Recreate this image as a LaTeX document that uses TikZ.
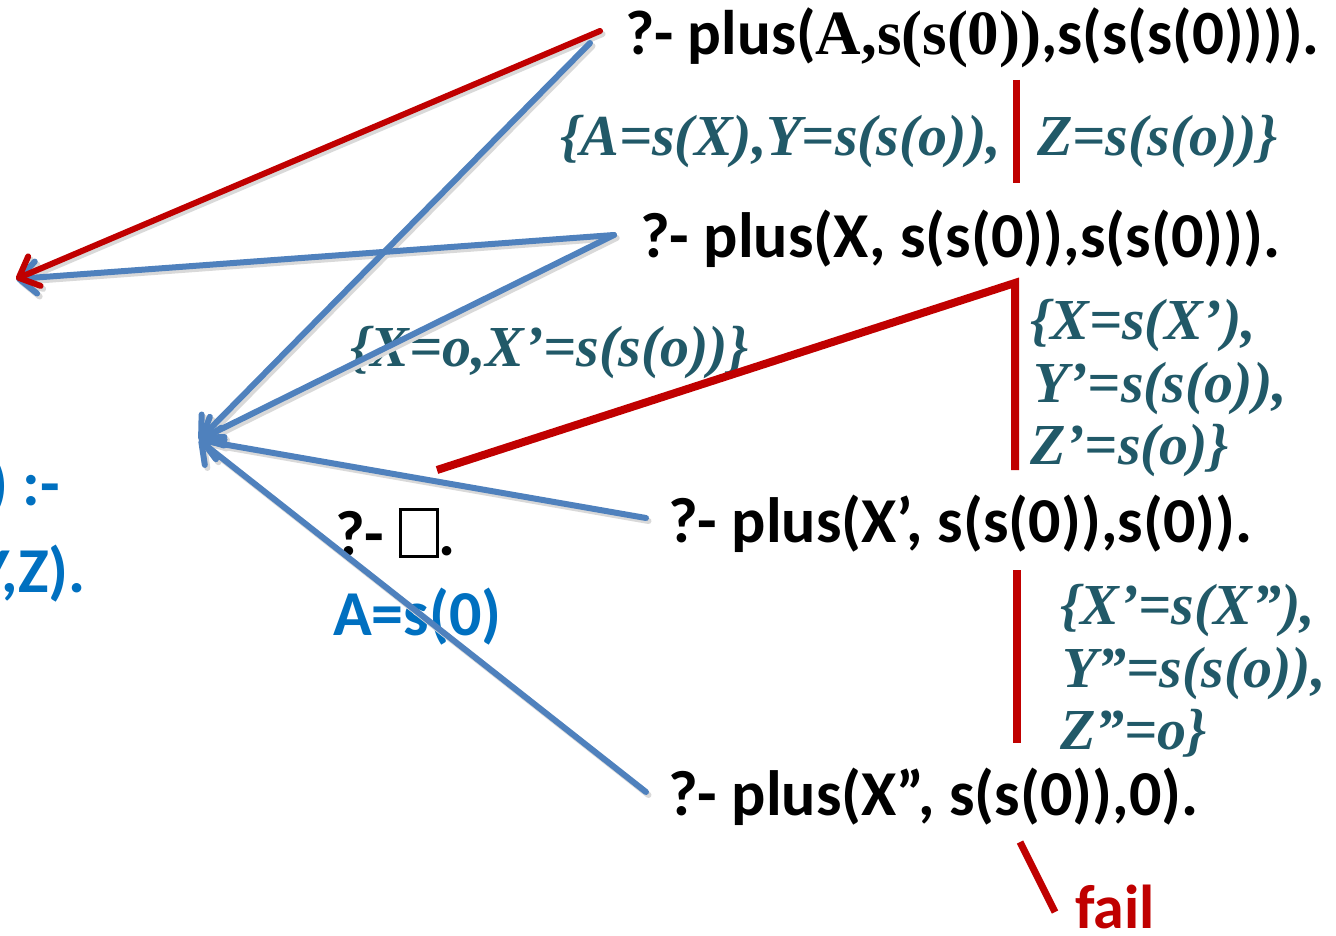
\documentclass[tikz,border=0pt]{standalone}
\usepackage{fontspec}
\setmainfont{Carlito}
\newfontfamily\lserif{Liberation Serif}
\usetikzlibrary{arrows.meta}
\definecolor{myred}{RGB}{192,0,0}
\definecolor{myblue}{RGB}{79,129,189}
\definecolor{txtblue}{RGB}{0,112,192}
\definecolor{tealtxt}{RGB}{33,89,104}
\tikzset{
  goal/.style={anchor=base west, inner sep=0pt, font=\fontsize{64}{70}\selectfont\bfseries, text=black},
  subst/.style={anchor=base west, inner sep=0pt, font=\lserif\fontsize{58}{62}\selectfont\bfseries\itshape, text=tealtxt},
  clause/.style={anchor=base east, inner sep=0pt, font=\fontsize{64}{70}\selectfont\bfseries, text=txtblue},
  failtxt/.style={anchor=base west, inner sep=0pt, font=\fontsize{62}{70}\selectfont\bfseries, text=myred},
  bluearrow/.style={draw=myblue, line width=6pt, line cap=round, -{Straight Barb[length=17pt,width=32pt,round]}},
  redarrow/.style={draw=myred, line width=6pt, line cap=round, -{Straight Barb[length=17pt,width=32pt,round]}},
  shadowarrow/.style={draw=black!15, line width=6pt, line cap=round, -{Straight Barb[length=17pt,width=32pt,round]}, transform canvas={shift={(2.5pt,-3pt)}}},
  redline/.style={draw=myred, line width=8pt},
}
\begin{document}
\begin{tikzpicture}[x=1pt,y=-1pt]
\useasboundingbox (0,0) rectangle (1336,936);
\clip (0,0) rectangle (1336,936);
\fill[white] (0,0) rectangle (1336,936);

% goals
\node[goal, font=\fontsize{63}{70}\selectfont\bfseries] (q1) at (625,55) {?- plus({\lserif A,s(s(0))},s(s(s(0)))).};
\node[goal] (q2) at (640,258) {?- plus(X, s(s(0)),s(s(0))).};
\node[goal] (q3) at (668,542) {?- plus(X’, s(s(0)),s(0)).};
\node[goal] (q4) at (668,815) {?- plus(X”, s(s(0)),0).};
\node[goal] (qe) at (335,555) {?- {\setlength\fboxrule{2.8pt}\setlength\fboxsep{0pt}\fbox{\rule{0pt}{44pt}\hspace{34pt}}}.};
\node[clause, anchor=base west] (ans) at (333,635) {A=s(0)};
\node[failtxt] (fail) at (1075,928) {fail};

% clause cut at the left edge
\node[clause] (c1) at (60,505) {plus(s(X),Y,s(Z)) :-};
\node[clause] (c2) at (86,592) {plus(X,Y,Z).};

% substitutions
\node[subst] (s1a) at (560,156) {\{A=s(X),Y=s(s(o)),};
\node[subst] (s1b) at (1037,156) {Z=s(s(o))\}};
\node[subst] (s2) at (350,366) {\{X=o,X’=s(s(o))\}};
\node[subst] (s3a) at (1030,339) {\{X=s(X’),};
\node[subst] (s3b) at (1033,402) {Y’=s(s(o)),};
\node[subst] (s3c) at (1030,464) {Z’=s(o)\}};
\node[subst] (s4a) at (1060,624) {\{X’=s(X”),};
\node[subst] (s4b) at (1062,687) {Y”=s(s(o)),};
\node[subst] (s4c) at (1060,749) {Z”=o\}};

% connector end points
\coordinate (t1) at (16,279);
\coordinate (t2) at (199,440);
\coordinate (a1r) at (600,31);
\coordinate (a1b) at (590,43);
\coordinate (a2) at (614,235);
\coordinate (a3) at (646,518);
\coordinate (a4) at (646,792);
\coordinate (r0) at (437,470);
\coordinate (r1) at (1015,283);
\coordinate (r2) at (1015,470);
\coordinate (v1a) at (1016,80);
\coordinate (v1b) at (1016,183);
\coordinate (v3a) at (1017,570);
\coordinate (v3b) at (1017,743);
\coordinate (f1) at (1020,842);
\coordinate (f2) at (1055,912);

% red tree lines
\draw[redline] (r0) -- (r1) -- (r2);
\draw[redline, line width=7pt] (v1a) -- (v1b);
\draw[redline] (v3a) -- (v3b);
\draw[redline, line width=7pt] (f1) -- (f2);

% shadows
\draw[shadowarrow] (a1r) -- (t1);
\draw[shadowarrow] (a2) -- (t1);
\draw[shadowarrow] (a1b) -- (t2);
\draw[shadowarrow] (a2) -- (t2);
\draw[shadowarrow] (a3) -- (t2);
\draw[shadowarrow] (a4) -- (t2);

% arrows
\draw[bluearrow] (a2) -- (t1);
\draw[redarrow] (a1r) -- (t1);
\draw[bluearrow] (a1b) -- (t2);
\draw[bluearrow] (a2) -- (t2);
\draw[bluearrow] (a3) -- (t2);
\draw[bluearrow] (a4) -- (t2);
\end{tikzpicture}
\end{document}
